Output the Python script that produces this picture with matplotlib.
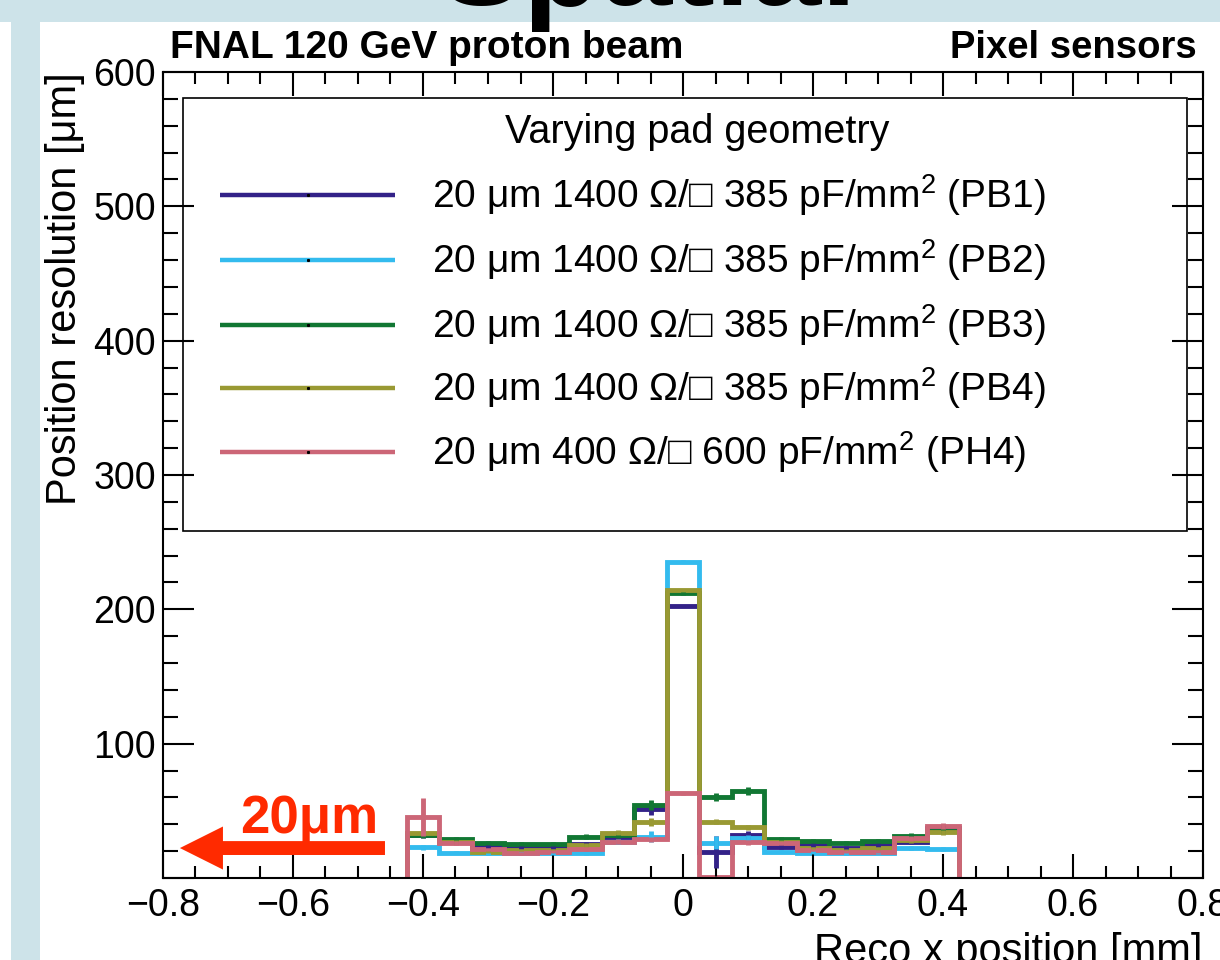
import numpy as np
import matplotlib.pyplot as plt
from matplotlib.patches import Rectangle
from matplotlib.ticker import MultipleLocator

plt.rcParams['font.family'] = ['Liberation Sans', 'DejaVu Sans']
plt.rcParams['mathtext.fontset'] = 'custom'
plt.rcParams['mathtext.rm'] = 'Liberation Sans'
plt.rcParams['mathtext.it'] = 'Liberation Sans:italic'
plt.rcParams['mathtext.bf'] = 'Liberation Sans:bold'

# bin edges of the reco x position histogram [mm]
bin_edges = [-0.425, -0.375, -0.325, -0.275, -0.225, -0.175, -0.125, -0.075, -0.025,
             0.025, 0.075, 0.125, 0.175, 0.225, 0.275, 0.325, 0.375, 0.425]
bin_centers = [-0.4, -0.35, -0.3, -0.25, -0.2, -0.15, -0.1, -0.05, 0.0,
               0.05, 0.1, 0.15, 0.2, 0.25, 0.3, 0.35, 0.4]

# position resolution [um] per bin
res_pb1 = [32, 27, 24, 23, 23.3, 25, 30.3, 51, 202.5, 19.6, 32, 22.8, 24.6, 22, 24.6, 27, 37]
res_pb2 = [22.9, 18.8, 18.4, 18.6, 18.4, 18.4, 27, 30.8, 235.5, 26.3, 30, 19.6, 18.8, 18.4, 18.8, 22, 21.4]
res_pb3 = [31.8, 28.8, 25.8, 25.1, 25, 30.8, 32, 54.4, 212, 60.5, 65, 29, 27.5, 25.8, 27.5, 31.5, 35]
res_pb4 = [33.7, 27, 19.6, 20.8, 20.8, 24.6, 33.7, 41.9, 214.4, 41.9, 37.7, 27, 22, 20.8, 22, 28, 34]
res_ph4 = [45.6, 26.3, 21.4, 18.4, 19.6, 21.6, 27, 28.8, 63, 0.5, 26.5, 26.3, 20.8, 19.6, 19.6, 29.5, 38.7]

err_pb1 = [2, 1.5, 1.5, 1.5, 1.5, 1.5, 2, 4, 1, 12, 3, 1.5, 1.5, 1.5, 1.5, 2, 2.5]
err_pb2 = [2, 1, 1, 1, 1, 1, 2, 4, 1, 5, 2, 1, 1, 1, 1, 1.5, 1.5]
err_pb3 = [2, 1.5, 1.5, 1.5, 1.5, 2, 2, 4, 1, 3, 3, 1.5, 1.5, 1.5, 1.5, 2, 2]
err_pb4 = [2, 1.5, 1, 1, 1, 1.5, 2, 3, 1, 2, 2, 1.5, 1, 1, 1, 2, 2]
err_ph4 = [14, 1.5, 1, 1, 1, 1.5, 2, 2, 1, 1, 2, 1.5, 1, 1, 1, 2, 2.5]

labels = [r'20 μm 1400 Ω/□ 385 pF/mm$^{2}$ (PB1)',
          r'20 μm 1400 Ω/□ 385 pF/mm$^{2}$ (PB2)',
          r'20 μm 1400 Ω/□ 385 pF/mm$^{2}$ (PB3)',
          r'20 μm 1400 Ω/□ 385 pF/mm$^{2}$ (PB4)',
          r'20 μm 400 Ω/□ 600 pF/mm$^{2}$ (PH4)']
colors = ['#332288', '#33bbee', '#117733', '#999933', '#cc6677']

xtick_vals = [-0.8, -0.6, -0.4, -0.2, 0, 0.2, 0.4, 0.6, 0.8]
xtick_labels = ['\u22120.8', '\u22120.6', '\u22120.4', '\u22120.2', '0', '0.2', '0.4', '0.6', '0.8']
ytick_vals = [0, 100, 200, 300, 400, 500, 600]
ytick_labels = ['', '100', '200', '300', '400', '500', '600']

W, H = 1220, 960
fig = plt.figure(figsize=(12.2, 9.6), dpi=100)

# slide background around the canvas
light = '#cde3e9'
fig.add_artist(Rectangle((0, 1 - 22 / H), 1, 22 / H, transform=fig.transFigure,
                         color=light, lw=0, zorder=-5))
fig.add_artist(Rectangle((11 / W, 0), 29 / W, 1 - 22 / H, transform=fig.transFigure,
                         color=light, lw=0, zorder=-5))

ax = fig.add_axes([163 / W, 82 / H, 1040 / W, 806 / H])

series = [res_pb1, res_pb2, res_pb3, res_pb4, res_ph4]
errors = [err_pb1, err_pb2, err_pb3, err_pb4, err_ph4]
for vals, errs, c in zip(series, errors, colors):
    ax.stairs(vals, bin_edges, baseline=0, color=c, lw=3.5, joinstyle='miter')
    ax.errorbar(bin_centers, vals, yerr=errs, fmt='none', ecolor=c, elinewidth=3.5, capsize=0)

ax.set_xlim(-0.8, 0.8)
ax.set_ylim(0, 600)
ax.set_xticks(xtick_vals, xtick_labels)
ax.set_yticks(ytick_vals, ytick_labels)
ax.xaxis.set_minor_locator(MultipleLocator(0.05))
ax.yaxis.set_minor_locator(MultipleLocator(20))
ax.tick_params(which='both', direction='in', top=True, right=True, width=1.5, color='black')
ax.tick_params(axis='x', which='major', length=17, labelsize=27, pad=7)
ax.tick_params(axis='x', which='minor', length=8.5)
ax.tick_params(axis='y', which='major', length=22, labelsize=27, pad=5)
ax.tick_params(axis='y', which='minor', length=11)
for sp in ax.spines.values():
    sp.set_linewidth(1.5)

# legend box drawn like the ROOT TLegend
ax.add_patch(Rectangle((0.0192, 0.4305), 0.9654, 0.5372, transform=ax.transAxes,
                       fill=False, edgecolor='black', lw=1.2, zorder=5))
ax.text(0.5135, 0.9256, 'Varying pad geometry', transform=ax.transAxes,
        ha='center', va='center', fontsize=28.5, zorder=6)
row_y = [0.8474, 0.7667, 0.6861, 0.6079, 0.5285]
for yy, lab, c in zip(row_y, labels, colors):
    ax.plot([0.0548, 0.2231], [yy, yy], transform=ax.transAxes, color=c, lw=3.2,
            solid_capstyle='butt', zorder=6)
    ax.plot([0.139], [yy], transform=ax.transAxes, marker='s', ms=1.2, color='black', zorder=7)
    ax.text(0.2587, yy, lab, transform=ax.transAxes, ha='left', va='center',
            fontsize=28, zorder=6)

# red arrow marking the 20 um reference
red = '#ff2a00'
ax.annotate('', xy=(-0.774, 22.3), xytext=(-0.4585, 22.3),
            arrowprops=dict(arrowstyle='simple,head_length=1.55,head_width=1.55,tail_width=0.5',
                            mutation_scale=20, color=red, lw=0, shrinkA=0, shrinkB=0))
ax.text(-0.575, 33.5, '20μm', color=red, fontsize=38, fontweight='bold',
        ha='center', va='baseline')

# axis titles and header texts
fig.text(65 / W, 1 - 72 / H, 'Position resolution [μm]', rotation=90,
         ha='center', va='top', fontsize=30)
fig.text(1203 / W, -3 / H, 'Reco x position [mm]', ha='right', va='baseline', fontsize=30)
fig.text(170 / W, 1 - 58 / H, 'FNAL 120 GeV proton beam', ha='left', va='baseline',
         fontsize=28, fontweight='bold')
fig.text(1197 / W, 1 - 58 / H, 'Pixel sensors', ha='right', va='baseline',
         fontsize=27.5, fontweight='bold')
fig.text(648 / W, 1 - 5 / H, 'Spatial', ha='center', va='baseline',
         fontsize=92, fontweight='bold', zorder=10)

fig.savefig('out.png', dpi=100)
